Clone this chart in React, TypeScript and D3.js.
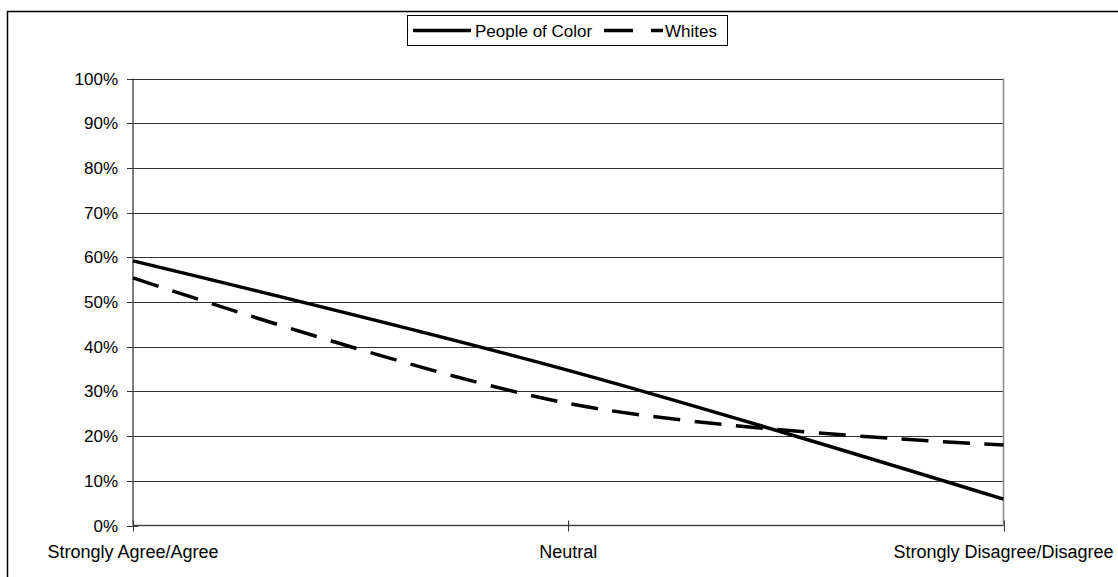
import React, { useEffect, useRef } from "react";
import * as d3 from "d3";

const categories = ["Strongly Agree/Agree", "Neutral", "Strongly Disagree/Disagree"];
const peopleOfColor = [0.592, 0.347, 0.059];
const whites = [0.554, 0.273, 0.18];
const yTicks = [0, 0.1, 0.2, 0.3, 0.4, 0.5, 0.6, 0.7, 0.8, 0.9, 1];

const W = 1118;
const H = 577;
const FONT = "'Liberation Sans', Arial, sans-serif";

export default function App() {
  const ref = useRef<SVGSVGElement>(null);

  useEffect(() => {
    const svg = d3.select(ref.current);
    svg.selectAll("*").remove();

    const left = 133,
      right = 1003.5,
      top = 78.5,
      bottom = 525.5;

    const x = d3.scalePoint<string>().domain(categories).range([left, right]);
    const y = d3.scaleLinear().domain([0, 1]).range([bottom, top]);

    // chart area border (runs off the page right and bottom)
    svg
      .append("rect")
      .attr("x", 7.5)
      .attr("y", 11.5)
      .attr("width", 1200)
      .attr("height", 700)
      .attr("fill", "white")
      .attr("stroke", "#000")
      .attr("stroke-width", 1.5);

    // gridlines
    svg
      .append("g")
      .selectAll("line")
      .data(yTicks.slice(1))
      .join("line")
      .attr("x1", left)
      .attr("x2", right)
      .attr("y1", (d) => Math.round(y(d)) + 0.5)
      .attr("y2", (d) => Math.round(y(d)) + 0.5)
      .attr("stroke", "#333")
      .attr("stroke-width", 1);

    // plot right border
    svg
      .append("line")
      .attr("x1", right)
      .attr("x2", right)
      .attr("y1", top)
      .attr("y2", bottom)
      .attr("stroke", "#888")
      .attr("stroke-width", 1.5);

    // y axis
    const yAxis = svg.append("g");
    yAxis
      .append("line")
      .attr("x1", left)
      .attr("x2", left)
      .attr("y1", top)
      .attr("y2", bottom)
      .attr("stroke", "#555")
      .attr("stroke-width", 1.5);
    yAxis
      .selectAll("line.tick")
      .data(yTicks)
      .join("line")
      .attr("class", "tick")
      .attr("x1", left - 6)
      .attr("x2", left + 5)
      .attr("y1", (d) => Math.round(y(d)) + 0.5)
      .attr("y2", (d) => Math.round(y(d)) + 0.5)
      .attr("stroke", "#333");
    yAxis
      .selectAll("text")
      .data(yTicks)
      .join("text")
      .attr("x", 118)
      .attr("y", (d) => y(d) + 6)
      .attr("text-anchor", "end")
      .style("font-family", FONT)
      .style("font-size", "17px")
      .attr("fill", "#000")
      .text((d) => d3.format(".0%")(d));

    // x axis
    const xAxis = svg.append("g");
    xAxis
      .append("line")
      .attr("x1", left)
      .attr("x2", right)
      .attr("y1", bottom)
      .attr("y2", bottom)
      .attr("stroke", "#444")
      .attr("stroke-width", 1.5);
    xAxis
      .selectAll("line.tick")
      .data(categories)
      .join("line")
      .attr("class", "tick")
      .attr("x1", (d) => Math.round(x(d)!) + 0.5)
      .attr("x2", (d) => Math.round(x(d)!) + 0.5)
      .attr("y1", bottom - 5)
      .attr("y2", bottom + 6)
      .attr("stroke", "#333");
    xAxis
      .selectAll("text")
      .data(categories)
      .join("text")
      .attr("x", (d) => x(d)!)
      .attr("y", 558)
      .attr("text-anchor", "middle")
      .style("font-family", FONT)
      .style("font-size", "18px")
      .attr("fill", "#000")
      .text((d) => d);

    // series (Excel-style smoothed lines)
    const line = d3
      .line<number>()
      .x((_, i) => x(categories[i])!)
      .y((d) => y(d))
      .curve(d3.curveCardinal.tension(0));

    svg
      .append("path")
      .datum(whites)
      .attr("d", line)
      .attr("fill", "none")
      .attr("stroke", "#000")
      .attr("stroke-width", 3.5)
      .attr("stroke-dasharray", "27 14.5");

    svg
      .append("path")
      .datum(peopleOfColor)
      .attr("d", line)
      .attr("fill", "none")
      .attr("stroke", "#000")
      .attr("stroke-width", 3.5);

    // legend
    const lg = svg.append("g");
    lg.append("rect")
      .attr("x", 407.5)
      .attr("y", 15.5)
      .attr("width", 320)
      .attr("height", 30)
      .attr("fill", "white")
      .attr("stroke", "#000")
      .attr("stroke-width", 1);
    lg.append("line")
      .attr("x1", 413)
      .attr("x2", 471)
      .attr("y1", 30.5)
      .attr("y2", 30.5)
      .attr("stroke", "#000")
      .attr("stroke-width", 3.5);
    lg.append("text")
      .attr("x", 475)
      .attr("y", 36.5)
      .style("font-family", FONT)
      .style("font-size", "17px")
      .text("People of Color");
    lg.append("line")
      .attr("x1", 604)
      .attr("x2", 663)
      .attr("y1", 30.5)
      .attr("y2", 30.5)
      .attr("stroke", "#000")
      .attr("stroke-width", 3.5)
      .attr("stroke-dasharray", "29 18");
    lg.append("text")
      .attr("x", 665)
      .attr("y", 36.5)
      .style("font-family", FONT)
      .style("font-size", "17px")
      .text("Whites");
  }, []);

  return (
    <div style={{ position: "absolute", left: 0, top: 0 }}>
      <svg ref={ref} width={W} height={H} style={{ display: "block" }} />
    </div>
  );
}
